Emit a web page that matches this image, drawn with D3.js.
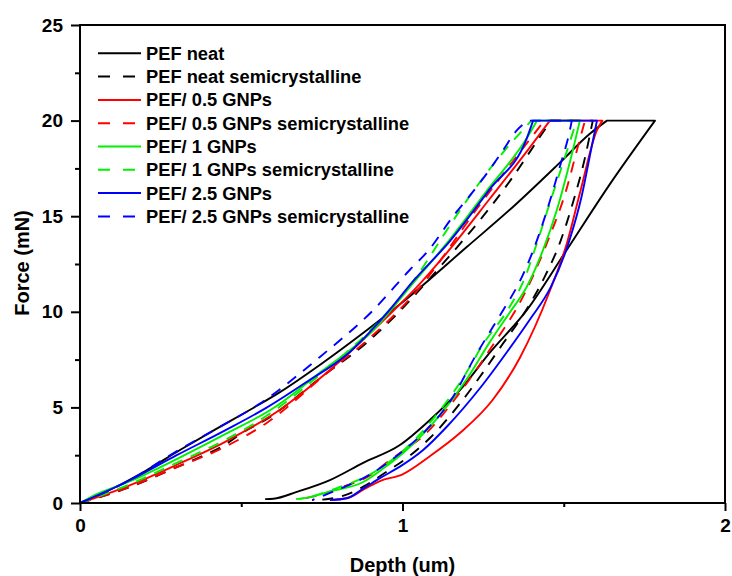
<!DOCTYPE html>
<html>
<head>
<meta charset="utf-8">
<script src="https://cdn.jsdelivr.net/npm/d3@7/dist/d3.min.js"></script>
<style>
  html, body { margin: 0; padding: 0; background: #fff; }
  svg { display: block; font-family: "Liberation Sans", Arial, sans-serif; font-weight: bold; }
</style>
</head>
<body>
<svg id="chart" width="732" height="576"></svg>
<script>
// ---- Data (Depth in um, Force in mN) ----
const xTicks = [0, 1, 2];
const xMinorTicks = [0.5, 1.5];
const yTicks = [0, 5, 10, 15, 20, 25];
const yMinorTicks = [2.5, 7.5, 12.5, 17.5, 22.5];
const holdForce = 20;

const seriesNames = [
  "PEF neat", "PEF neat semicrystalline",
  "PEF/ 0.5 GNPs", "PEF/ 0.5 GNPs semicrystalline",
  "PEF/ 1 GNPs", "PEF/ 1 GNPs semicrystalline",
  "PEF/ 2.5 GNPs", "PEF/ 2.5 GNPs semicrystalline"
];
const seriesColors = ["#000000", "#000000", "#ff0000", "#ff0000", "#00f000", "#00f000", "#0000ff", "#0000ff"];
const seriesDashed = [false, true, false, true, false, true, false, true];

const pefNeat = [
  [0,0],[0.1,0.75],[0.2,1.65],[0.31,2.77],[0.42,3.85],[0.537,4.97],[0.62,5.8],[0.75,7.3],[0.89,9.05],[1.0,10.5],
  [1.2,13.4],[1.35,15.6],[1.488,17.8],[1.58,19.3],[1.634,20],
  [1.783,20],
  [1.64,16.6],[1.504,13.1],[1.386,10.1],[1.27,7.85],[1.178,5.9],[1.085,4.34],[0.992,3.03],[0.878,2.1],
  [0.775,1.2],[0.672,0.58],[0.6,0.22],[0.574,0.2]
];
const pefNeatSemi = [
  [0,0],[0.15,0.8],[0.29,1.8],[0.372,2.4],[0.445,3.0],[0.506,3.7],[0.58,4.4],[0.75,6.6],[0.89,8.4],[0.99,10.0],
  [1.045,11.0],[1.15,13.0],[1.25,15.0],[1.34,17.0],[1.42,19.0],[1.46,20],
  [1.59,20],
  [1.565,18.0],[1.53,15.8],[1.49,13.7],[1.44,11.8],[1.38,10.0],[1.31,8.3],[1.24,6.6],[1.178,5.2],
  [1.085,3.4],[1.017,2.4],[0.952,1.65],[0.887,0.94],[0.85,0.6],[0.775,0.22],[0.72,0.15]
];
const pef05 = [
  [0,0],[0.15,0.9],[0.3,2.0],[0.45,3.2],[0.63,5.0],[0.75,6.6],[0.837,7.9],[0.95,9.7],[1.045,11.3],[1.138,13.1],
  [1.27,15.9],[1.395,18.6],[1.457,20],
  [1.62,20],
  [1.603,19.5],[1.55,16.2],[1.51,13.6],[1.457,11.1],[1.364,7.6],[1.28,5.4],[1.178,3.66],[1.085,2.45],
  [1.0,1.5],[0.93,1.15],[0.878,0.7],[0.837,0.3],[0.775,0.15]
];
const pef05Semi = [
  [0,0],[0.155,0.85],[0.29,1.8],[0.445,2.9],[0.58,4.2],[0.766,6.8],[0.89,8.5],[1.045,11.1],[1.24,15.6],[1.44,20],
  [1.566,20],
  [1.54,18.4],[1.51,16.5],[1.448,13.6],[1.38,11.0],[1.27,8.0],[1.17,5.6],[1.064,3.5],[1.0,2.7],[0.95,2.1],
  [0.9,1.45],[0.816,0.85],[0.744,0.42],[0.68,0.2]
];
const pef1 = [
  [0,0],[0.05,0.45],[0.15,1.1],[0.3,2.3],[0.45,3.6],[0.6,4.97],[0.75,6.9],[0.91,9.05],[1.033,11.5],[1.138,13.6],
  [1.26,16.3],[1.386,19.1],[1.417,20],
  [1.55,20],
  [1.52,17.9],[1.48,15.4],[1.435,13.2],[1.385,11.3],[1.33,9.9],[1.27,8.4],[1.2,6.5],[1.116,4.6],[1.014,2.8],
  [0.94,1.8],[0.878,1.1],[0.775,0.6],[0.713,0.31],[0.67,0.2]
];
const pef1Semi = [
  [0,0],[0.15,0.95],[0.3,2.1],[0.45,3.3],[0.6,4.8],[0.75,6.8],[0.91,9.2],[1.05,12.0],[1.127,14.0],[1.19,15.6],
  [1.31,18.3],[1.40,20],
  [1.54,20],
  [1.5,17.9],[1.457,15.7],[1.417,13.6],[1.375,11.6],[1.33,10.2],[1.25,8.3],[1.19,6.6],[1.1,4.5],[1.0,2.7],
  [0.9,1.5],[0.8,0.8],[0.72,0.35],[0.68,0.2]
];
const pef25 = [
  [0,0],[0.15,1.15],[0.3,2.5],[0.45,3.8],[0.58,5.0],[0.7,6.3],[0.837,7.9],[0.95,9.9],[1.033,11.6],[1.147,13.7],
  [1.27,16.4],[1.386,19.1],[1.405,20],
  [1.603,20],
  [1.585,18.5],[1.555,16.0],[1.515,13.6],[1.46,11.3],[1.395,9.6],[1.324,7.9],[1.24,6.0],[1.138,4.0],[1.064,2.77],
  [0.992,1.9],[0.93,1.3],[0.878,0.75],[0.828,0.25],[0.775,0.15]
];
const pef25Semi = [
  [0,0],[0.155,1.2],[0.279,2.5],[0.425,3.9],[0.558,5.2],[0.744,7.64],[0.91,10.1],[1.023,12.2],[1.08,13.2],[1.157,15.0],
  [1.21,16.1],[1.26,17.2],[1.31,18.4],[1.355,19.5],[1.39,20],
  [1.525,20],
  [1.519,19.5],[1.488,17.6],[1.448,15.3],[1.405,13.2],[1.364,11.6],[1.32,10.3],[1.28,9.2],[1.23,7.8],[1.147,5.3],
  [1.064,3.66],[1.0,2.7],[0.9,1.5],[0.8,0.7],[0.75,0.35],[0.72,0.15]
];
const seriesData = [pefNeat, pefNeatSemi, pef05, pef05Semi, pef1, pef1Semi, pef25, pef25Semi];

(function () {
  const svg = d3.select("#chart");
  const mL = 80, mR = 725, mT = 25, mB = 503;

  const x = d3.scaleLinear().domain([0, 2]).range([mL, mR]);
  const y = d3.scaleLinear().domain([0, 25]).range([mB, mT]);

  const smooth = d3.line().x(d => x(d[0])).y(d => y(d[1])).curve(d3.curveMonotoneX);
  const straight = d3.line().x(d => x(d[0])).y(d => y(d[1]));

  function pathFor(data) {
    const iStart = data.findIndex(d => d[1] === holdForce);
    let iEnd = iStart;
    data.forEach((d, i) => { if (d[1] === holdForce) iEnd = i; });
    const loading = data.slice(0, iStart + 1);
    const hold = data.slice(iStart, iEnd + 1);
    const unloading = data.slice(iEnd);
    return smooth(loading) +
      straight(hold).replace(/^M/, "L") +
      smooth(unloading).replace(/^M/, "L");
  }

  const plot = svg.append("g");
  seriesData.forEach((data, i) => {
    plot.append("path")
      .attr("d", pathFor(data))
      .attr("fill", "none")
      .attr("stroke", seriesColors[i])
      .attr("stroke-width", 1.9)
      .attr("stroke-dasharray", seriesDashed[i] ? "11,9" : null)
      .attr("stroke-linejoin", "round");
  });

  const tickFont = 19;
  const xAxis = svg.append("g").attr("transform", `translate(0,${mB})`)
    .call(d3.axisBottom(x).tickValues(xTicks).tickSize(8).tickPadding(8).tickFormat(d3.format("d")));
  const xMinor = svg.append("g").attr("transform", `translate(0,${mB})`)
    .call(d3.axisBottom(x).tickValues(xMinorTicks).tickSize(4).tickFormat(""));
  const yAxis = svg.append("g").attr("transform", `translate(${mL},0)`)
    .call(d3.axisLeft(y).tickValues(yTicks).tickSize(9).tickPadding(8).tickFormat(d3.format("d")));
  const yMinor = svg.append("g").attr("transform", `translate(${mL},0)`)
    .call(d3.axisLeft(y).tickValues(yMinorTicks).tickSize(5).tickFormat(""));

  [xAxis, xMinor, yAxis, yMinor].forEach(g => {
    g.selectAll("path.domain").remove();
    g.selectAll("line").attr("stroke", "#000").attr("stroke-width", 2);
    g.selectAll("text").attr("fill", "#000")
      .style("font-size", tickFont + "px").style("font-weight", "bold")
      .style("font-family", '"Liberation Sans", Arial, sans-serif');
  });

  svg.append("rect")
    .attr("x", mL).attr("y", mT)
    .attr("width", mR - mL).attr("height", mB - mT)
    .attr("fill", "none").attr("stroke", "#000").attr("stroke-width", 2);

  svg.append("text")
    .attr("x", (mL + mR) / 2).attr("y", 572)
    .attr("text-anchor", "middle")
    .style("font-size", "20px")
    .text("Depth (um)");
  svg.append("text")
    .attr("transform", `translate(29,${(mT + mB) / 2 - 1}) rotate(-90)`)
    .attr("text-anchor", "middle")
    .style("font-size", "20px")
    .text("Force (mN)");

  const legend = svg.append("g");
  seriesNames.forEach((name, i) => {
    const ly = 53.3 + i * 23.3;
    legend.append("line")
      .attr("x1", 98).attr("x2", 141)
      .attr("y1", ly).attr("y2", ly)
      .attr("stroke", seriesColors[i])
      .attr("stroke-width", 2)
      .attr("stroke-dasharray", seriesDashed[i] ? "12,13" : null);
    legend.append("text")
      .attr("x", 146).attr("y", ly + 6.5)
      .style("font-size", "18.3px")
      .text(name);
  });
})();
</script>
</body>
</html>
